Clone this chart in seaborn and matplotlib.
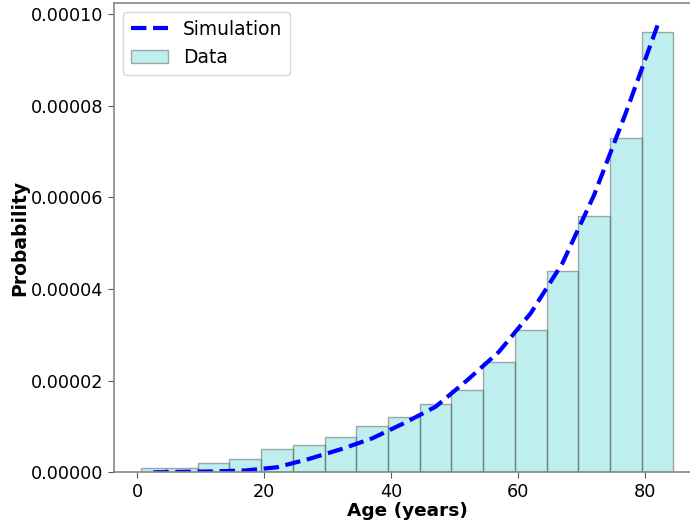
import matplotlib
matplotlib.use("Agg")
import matplotlib.pyplot as plt
import seaborn as sns
import numpy as np
import pandas as pd

# ---- data ----
bin_edges = [0.5, 4.5, 9.5, 14.5, 19.5, 24.5, 29.5, 34.5, 39.5, 44.5, 49.5,
             54.5, 59.5, 64.5, 69.5, 74.5, 79.5, 84.5]
data_prob = [0.9e-6, 0.9e-6, 2.0e-6, 3.0e-6, 5.0e-6, 6.0e-6, 7.8e-6, 10.0e-6,
             12.0e-6, 15.0e-6, 18.0e-6, 24.0e-6, 31.0e-6, 44.0e-6, 56.0e-6,
             73.0e-6, 96.0e-6]
sim_age = [2.5, 7, 12, 17, 22, 27, 32, 37, 42, 47, 52, 57, 62, 67, 72, 77, 82]
sim_prob = [0.0, 0.1e-6, 0.2e-6, 0.4e-6, 1.1e-6, 2.9e-6, 5.0e-6, 7.4e-6,
            10.7e-6, 14.3e-6, 20.1e-6, 26.3e-6, 34.7e-6, 45.6e-6, 60.5e-6,
            78.4e-6, 97.5e-6]

bin_centers = [(a + b) / 2 for a, b in zip(bin_edges[:-1], bin_edges[1:])]
hist_df = pd.DataFrame({"age": bin_centers, "prob": data_prob})
sim_df = pd.DataFrame({"age": sim_age, "prob": sim_prob})

sns.set_style("white")
plt.rcParams['font.family'] = ['DejaVu Sans']
plt.rcParams['text.color'] = 'black'
plt.rcParams['axes.labelcolor'] = 'black'

fig = plt.figure(figsize=(6.9, 5.23), dpi=100)
ax = fig.add_axes([114 / 690, 50.7 / 523, 586 / 690, 469.3 / 523])

sns.lineplot(data=sim_df, x="age", y="prob", ax=ax, color="blue",
             linestyle="--", linewidth=3, label="Simulation")
sns.histplot(data=hist_df, x="age", weights="prob", bins=bin_edges, ax=ax,
             stat="count", color="c", alpha=0.25, edgecolor=(0.35, 0.35, 0.35, 0.5),
             linewidth=1, label="Data")

ax.set_xlim(-3.7, 88.7)
ax.set_ylim(0, 102.4e-6)
ax.set_xticks([0, 20, 40, 60, 80])
ax.set_yticks([0, 0.00002, 0.00004, 0.00006, 0.00008, 0.00010])
ax.set_yticklabels(["0.00000", "0.00002", "0.00004", "0.00006", "0.00008", "0.00010"])
ax.tick_params(axis="both", labelsize=12.7, length=4, color="#555555",
               labelcolor="black", left=True, bottom=True)
ax.set_xlabel("Age (years)", fontsize=13.3, fontweight="bold", labelpad=1)
ax.set_ylabel("Probability", fontsize=13.5, fontweight="bold", labelpad=1)
for s in ax.spines.values():
    s.set_color("#888888")
    s.set_linewidth(1.2)

ax.legend(loc="upper left", fontsize=13.4, frameon=True)

fig.savefig("out.png", dpi=100)
